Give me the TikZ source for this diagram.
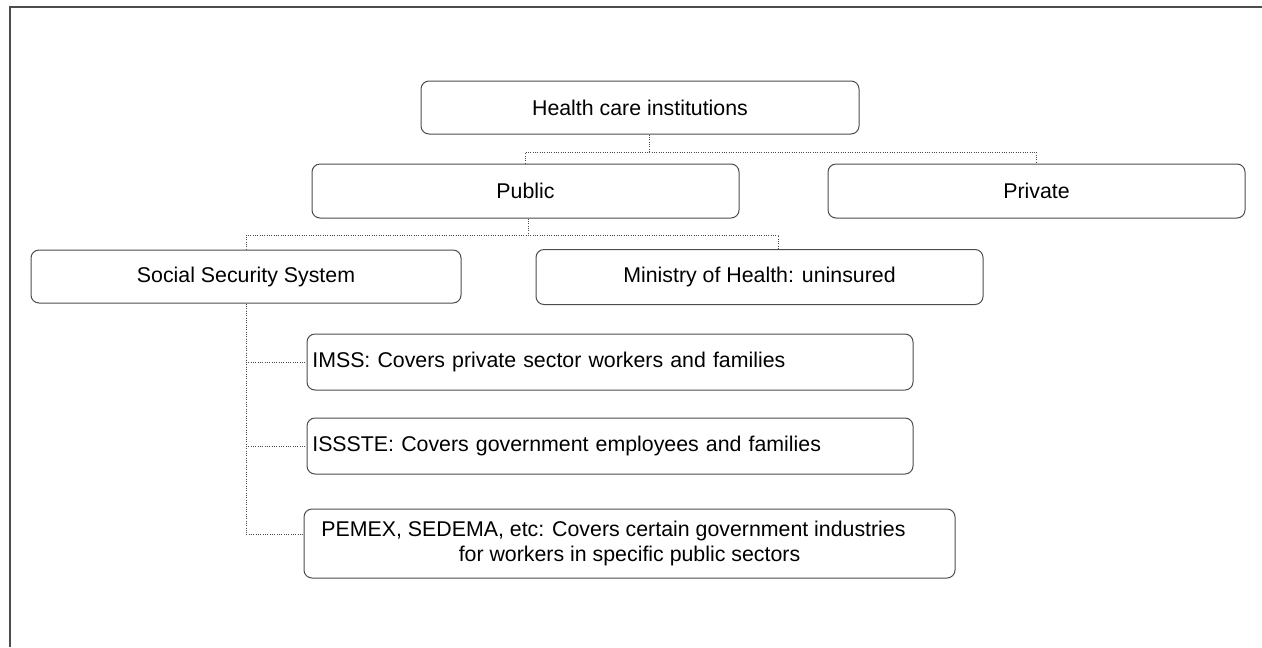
\documentclass[tikz,border=0pt]{standalone}
\usepackage{fontspec}
\setmainfont{Liberation Sans}

\begin{document}
\begin{tikzpicture}[x=0.75pt,y=-0.75pt,
    box/.style={draw=black!70,line width=0.75pt,rounded corners=6pt,
      font=\fontsize{16}{19}\selectfont},
    wide box/.style={box,align=left,inner xsep=4pt},
    link/.style={draw=black!70,line width=0.75pt,densely dotted}]
    \useasboundingbox (0,0) rectangle (1262,647);
    % frame
    \draw[black!70,line width=1.5pt] (1262,7) -- (10,7) -- (10,647);
    % boxes
    \node[box,minimum width=328.5pt,minimum height=39.75pt] (hci) at (640,107.5) {Health care institutions};
    \node[box,minimum width=320.25pt,minimum height=40.5pt] (pub) at (525.5,191) {Public};
    \node[box,minimum width=312.75pt,minimum height=40.5pt] (pri) at (1036.5,191) {Private};
    \node[box,minimum width=322.5pt,minimum height=39.75pt] (sss) at (246,276.5) {Social Security System};
    \node[box,minimum width=335.25pt,minimum height=41.25pt] (moh) at (759.5,277) {Ministry of Health: uninsured};
    \node[wide box,text width=446.5pt,minimum height=42pt] (imss) at (610,362) {IMSS: Covers private sector workers and families};
    \node[wide box,text width=446.5pt,minimum height=42pt] (iss) at (610,446) {ISSSTE: Covers government employees and families};
    \node[box,align=center,minimum width=488.25pt,minimum height=51.75pt] (pem) at (629.5,543.5)
      {PEMEX, SEDEMA, etc: Covers certain government industries\hspace*{24pt}\\for workers in specific public sectors};
    % connectors
    \coordinate (hcij) at (649,152);
    \coordinate (pubj) at (528,235);
    \draw[link] (hci.south -| hcij) -- (hcij);
    \draw[link] (pub.north) |- (hcij) -| (pri.north);
    \draw[link] (pub.south -| pubj) -- (pubj);
    \draw[link] (sss.north) |- (pubj) -| ([xshift=14.25pt]moh.north);
    \draw[link] (sss.south) |- (imss.west);
    \draw[link] (sss.south) |- (iss.west);
    \draw[link] (sss.south) |- ([yshift=7pt]pem.west);
\end{tikzpicture}
\end{document}
